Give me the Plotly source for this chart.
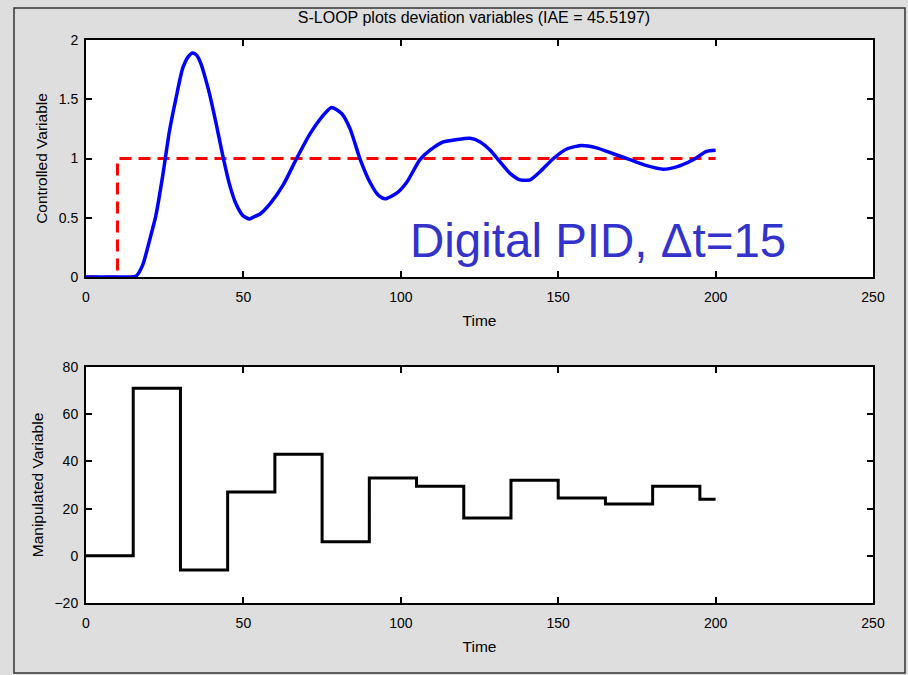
import plotly.graph_objects as go

# Controlled variable (deviation)
cv_t = [0, 5, 10, 14, 16, 18, 20.1, 22.2, 24.4, 26.5, 28.6, 30.7, 32.5, 33.9, 35.2, 36.5, 38.0, 39.2, 41.3, 43.4,
        45.5, 47.6, 49.8, 51.9, 53.5, 55.2, 58.5, 62.7, 66.9, 71.2, 74.9, 78.0, 81.2, 83.9, 87.0,
        90.2, 92.9, 95.0, 98.8, 101.9, 106.1, 109.3, 113.5, 117.8, 122.0, 125.2, 128.4, 131.6,
        134.7, 137.9, 141.1, 144.3, 148.5, 152.7, 157.2, 162.2, 167.5, 172.8, 178.1, 183.4,
        187.6, 192.9, 197.1, 200]
cv_y = [0, 0, 0, 0, 0.01, 0.10, 0.30, 0.52, 0.86, 1.23, 1.51, 1.76, 1.86, 1.89, 1.87, 1.80, 1.67, 1.55, 1.30, 1.03,
        0.79, 0.62, 0.52, 0.49, 0.51, 0.53, 0.62, 0.78, 1.0, 1.21, 1.35, 1.43, 1.38, 1.25, 1.0,
        0.80, 0.69, 0.66, 0.71, 0.80, 0.99, 1.07, 1.14, 1.16, 1.17, 1.14, 1.07, 0.97,
        0.875, 0.82, 0.82, 0.89, 1.0, 1.08, 1.11, 1.09, 1.04, 0.99, 0.94, 0.91,
        0.93, 0.99, 1.06, 1.07]

# Set point
sp_t = [0, 10, 10, 200]
sp_y = [0, 0, 1, 1]

# Manipulated variable (zero-order hold, sample time 15)
mv_t = [0, 15, 30, 45, 60, 75, 90, 105, 120, 135, 150, 165, 180, 195, 200]
mv_y = [0, 71, -6, 27, 43, 6, 33, 29.5, 16, 32, 24.5, 22, 29.5, 24, 24]

x_ticks = [0, 50, 100, 150, 200, 250]
y1_ticks = [0, 0.5, 1, 1.5, 2]
y2_ticks = [-20, 0, 20, 40, 60, 80]

FONT = "Liberation Sans, Arial, sans-serif"
TICKF = dict(family=FONT, size=14, color="black")
LABF = dict(family=FONT, size=15.5, color="black")

fig = go.Figure()
fig.add_trace(go.Scatter(x=sp_t, y=sp_y, mode="lines",
                         line=dict(color="#ff0000", width=3, dash="12px,7px"),
                         xaxis="x", yaxis="y"))
fig.add_trace(go.Scatter(x=cv_t, y=cv_y, mode="lines",
                         line=dict(color="#0000ff", width=3.5, shape="spline", smoothing=0.6),
                         xaxis="x", yaxis="y"))
fig.add_trace(go.Scatter(x=mv_t, y=mv_y, mode="lines",
                         line=dict(color="#000000", width=3, shape="hv"),
                         xaxis="x2", yaxis="y2"))

axis_common = dict(showline=True, linecolor="black", linewidth=2, mirror="ticks",
                   ticks="inside", ticklen=6, tickwidth=2, tickcolor="black",
                   showgrid=False, zeroline=False, tickfont=TICKF)

fig.update_layout(
    width=908, height=675,
    margin=dict(l=86, r=35, t=40, b=72),
    paper_bgcolor="#dedede", plot_bgcolor="white",
    showlegend=False,
    title=dict(text="S-LOOP plots deviation variables (IAE = 45.5197)",
               xref="paper", x=0.493, xanchor="center", y=1 - 17 / 675, yanchor="middle",
               font=dict(family=FONT, size=16, color="black")),
    xaxis=dict(domain=[0, 1], range=[0, 250], tickvals=x_ticks, anchor="y", ticklabelstandoff=6,
               title=dict(text="Time", font=LABF, standoff=11), **axis_common),
    yaxis=dict(domain=[0.5790, 1.0], range=[0, 2], tickvals=y1_ticks, anchor="x", ticklabelstandoff=3,
               title=dict(text="Controlled Variable", font=LABF, standoff=7), **axis_common),
    xaxis2=dict(domain=[0, 1], range=[0, 250], tickvals=x_ticks, anchor="y2", ticklabelstandoff=6,
                title=dict(text="Time", font=LABF, standoff=11), **axis_common),
    yaxis2=dict(domain=[0, 0.4192], range=[-20, 80], tickvals=y2_ticks, anchor="x2", ticklabelstandoff=3,
                title=dict(text="Manipulated Variable", font=LABF, standoff=7), **axis_common),
    annotations=[dict(text="Digital PID, \u0394t=15", x=102.4, y=0.31, xref="x", yref="y",
                      xanchor="left", yanchor="middle", showarrow=False,
                      font=dict(family=FONT, size=47.5, color="rgb(51,51,204)"))],
    shapes=[dict(type="rect", xref="paper", yref="paper",
                 x0=(14 - 86) / 787, x1=(905 - 86) / 787,
                 y0=(603 - 673) / 563, y1=(603 - 8) / 563,
                 line=dict(color="#333333", width=1.5), fillcolor="rgba(0,0,0,0)", layer="below")],
)

fig.write_html("out.html")
